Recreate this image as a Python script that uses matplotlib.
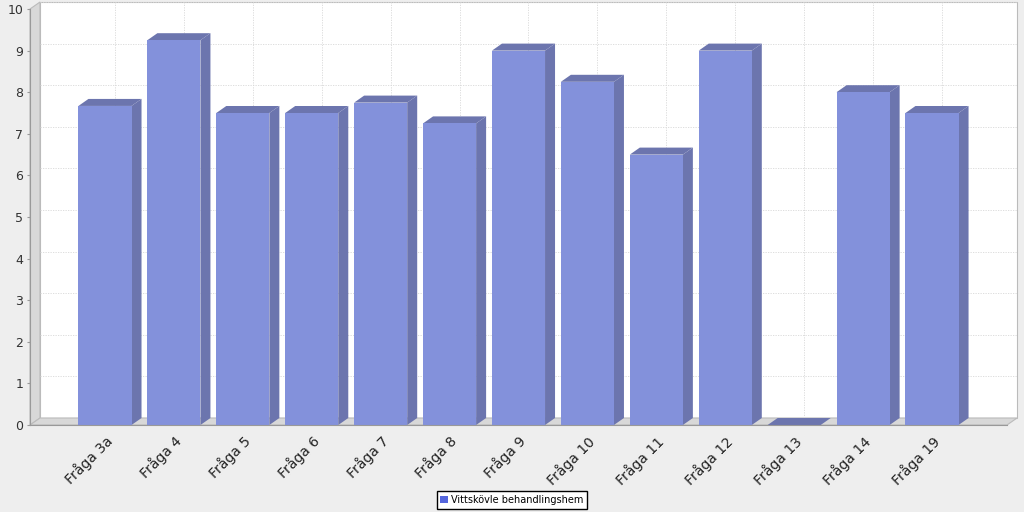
import matplotlib.pyplot as plt
import matplotlib.transforms as mtransforms
from matplotlib.patches import Polygon, Rectangle, Patch

categories = ["Fråga 3a", "Fråga 4", "Fråga 5", "Fråga 6", "Fråga 7", "Fråga 8",
              "Fråga 9", "Fråga 10", "Fråga 11", "Fråga 12", "Fråga 13", "Fråga 14",
              "Fråga 19"]
values = [7.67, 9.25, 7.5, 7.5, 7.75, 7.25, 9.0, 8.25, 6.5, 9.0, 0.0, 8.0, 7.5]
series_name = "Vittskövle behandlingshem"
y_ticks = list(range(0, 11))

front_col = "#8391DB"
side_col = "#6C75AE"
wall_col = "#D8D8D8"
grid_col = "#D8D8D8"

W, H = 1024, 512
fig = plt.figure(figsize=(W / 100, H / 100), dpi=100)
fig.patch.set_facecolor("#EEEEEE")

# front plane of the plot area in pixels
left_px, right_px, top_px, bottom_px = 30, 1007, 9, 425
ax = fig.add_axes([left_px / W, 1 - bottom_px / H,
                   (right_px - left_px) / W, (bottom_px - top_px) / H])
ax.set_facecolor("none")

n = len(categories)
xmin, xmax = -1.088, n - 1 + 1.088
ymin, ymax = 0, 10
ax.set_xlim(xmin, xmax)
ax.set_ylim(ymin, ymax)

# 3d depth in pixels -> data units
dx_px, dy_px = 10, 7
ddx = dx_px * (xmax - xmin) / (right_px - left_px)
ddy = dy_px * (ymax - ymin) / (bottom_px - top_px)

# back wall, left wall, floor
ax.add_patch(Rectangle((xmin + ddx, ymin + ddy), xmax - xmin, ymax - ymin,
                       facecolor="white", edgecolor="#BBBBBB", lw=0.8,
                       zorder=0, clip_on=False))
ax.add_patch(Polygon([(xmin, ymin), (xmin, ymax), (xmin + ddx, ymax + ddy),
                      (xmin + ddx, ymin + ddy)], closed=True,
                     facecolor=wall_col, edgecolor="#BBBBBB", lw=0.8,
                     zorder=0.5, clip_on=False))
ax.add_patch(Polygon([(xmin, ymin), (xmax, ymin), (xmax + ddx, ymin + ddy),
                      (xmin + ddx, ymin + ddy)], closed=True,
                     facecolor=wall_col, edgecolor="#BBBBBB", lw=0.8,
                     zorder=0.5, clip_on=False))

# grid on back wall
for t in y_ticks[1:]:
    ax.plot([xmin + ddx, xmax + ddx], [t + ddy, t + ddy], color=grid_col,
            lw=0.6, ls=(0, (1.5, 1.5)), zorder=1, clip_on=False)
for i in range(n):
    ax.plot([i + ddx, i + ddx], [ymin + ddy, ymax + ddy], color=grid_col,
            lw=0.6, ls=(0, (1.5, 1.5)), zorder=1, clip_on=False)

# bars
width = 0.77
xs = list(range(n))
ax.bar(xs, values, width=width, color=front_col, zorder=4)
for x, v in zip(xs, values):
    l, r = x - width / 2, x + width / 2
    ax.add_patch(Polygon([(r, 0), (r, v), (r + ddx, v + ddy), (r + ddx, ddy)],
                         closed=True, facecolor=side_col, edgecolor="none",
                         zorder=3, clip_on=False))
    ax.add_patch(Polygon([(l, v), (r, v), (r + ddx, v + ddy), (l + ddx, v + ddy)],
                         closed=True, facecolor=side_col, edgecolor="none",
                         zorder=3, clip_on=False))

# axes
for s in ["top", "right"]:
    ax.spines[s].set_visible(False)
ax.spines["left"].set_color("#999999")
ax.spines["bottom"].set_color("#999999")
ax.spines["left"].set_zorder(5)
ax.spines["bottom"].set_zorder(5)
ax.set_yticks(y_ticks)
ax.tick_params(axis="y", length=2, color="#999999", labelsize=9, pad=3,
               labelcolor="#333333")
ax.set_xticks(xs)
ax.set_xticklabels(categories, rotation=45, ha="right", va="center",
                   rotation_mode="anchor", fontsize=10, color="#222222")
ax.tick_params(axis="x", length=0, pad=10)
shift = mtransforms.ScaledTranslation(5 / 100, 0, fig.dpi_scale_trans)
for lab in ax.get_xticklabels():
    lab.set_transform(lab.get_transform() + shift)

fig.legend(handles=[Patch(facecolor="#5566DD", edgecolor="none", label=series_name)],
           loc="lower center", bbox_to_anchor=(0.5, 3 / H), fontsize=7,
           frameon=True, fancybox=False, edgecolor="black", handlelength=0.8,
           handleheight=0.8, handletextpad=0.3, borderpad=0.4, borderaxespad=0,
           framealpha=1)

fig.savefig("out.png", dpi=100, facecolor=fig.get_facecolor())
